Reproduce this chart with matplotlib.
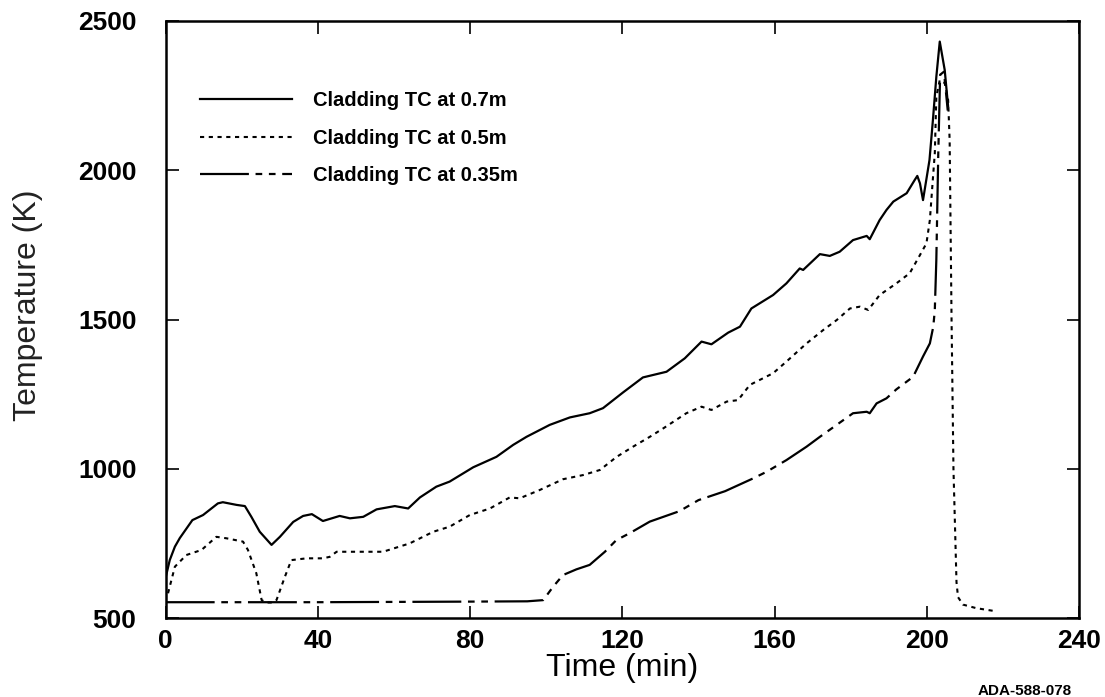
import matplotlib
matplotlib.use("Agg")
import matplotlib.pyplot as plt

# Cladding TC at 0.7 m (solid)
t07 = [0, 1.05, 2.4, 3.7, 7, 9.8, 13.7, 15, 18.6, 20.8, 22.5, 24.7, 27.8, 30, 33.5, 36.1, 38.4, 41.3,
       45.7, 48.4, 51.9, 55.4, 60.2, 63.7, 66.8, 71.1, 74.6, 80.8, 86.9, 91.3, 94.8, 100.9,
       106.2, 111.4, 114.9, 120.2, 125.4, 131.6, 136.4, 140.8, 143.4, 147.8, 150.9, 153.9,
       159.6, 163.1, 166.6, 167.5, 171.9, 174.5, 177.1, 180.6, 184.2, 185.0, 187.6, 189.4,
       191.2, 194.7, 196.8, 197.5, 198.2, 199.0, 200.7, 201.6, 202.5, 203.4, 204.7, 205.6]
T07 = [637, 694, 739, 768, 828, 845, 884, 888, 879, 875, 839, 789, 745, 772, 822, 842, 848, 825,
       842, 834, 839, 864, 875, 867, 904, 940, 957, 1005, 1040, 1080, 1107, 1147,
       1172, 1186, 1203, 1256, 1306, 1325, 1370, 1426, 1417, 1456, 1476, 1537,
       1582, 1621, 1671, 1666, 1719, 1713, 1727, 1766, 1780, 1769, 1833, 1867,
       1895, 1923, 1967, 1981, 1956, 1900, 2034, 2168, 2313, 2431, 2336, 2213]

# Cladding TC at 0.5 m (dotted)
t05 = [0.6, 2.4, 5.4, 9.4, 13.3, 16.0, 20.3, 21.6, 23.8, 25.2, 26.5, 28.0, 29.1, 31.3, 33.0, 37, 41.3,
       43.1, 44.9, 51, 57.1, 64.1, 70.3, 74.6, 79.9, 85.2, 90.4, 93.0, 98.3, 104.4, 109.7,
       114.1, 118.5, 122.8, 127.2, 130.7, 136.8, 140.8, 143.4, 147.4, 150.4, 153.5, 159.6,
       163.1, 168.4, 172.8, 176.3, 179.8, 182.4, 184.6, 187.6, 192.0, 195.5, 198.2, 199.9,
       200.8, 201.7, 202.1, 202.5, 203.4, 204.7, 205.6, 206.0, 206.5, 207.0, 207.8, 208.2,
       209.5, 213, 218]
T05 = [583, 672, 711, 728, 772, 767, 756, 728, 650, 560, 552, 552, 560, 638, 694, 700, 700,
       705, 722, 722, 722, 750, 789, 806, 845, 867, 904, 901, 929, 965, 979,
       996, 1040, 1074, 1107, 1135, 1186, 1208, 1197, 1225, 1230, 1281, 1320,
       1359, 1420, 1465, 1498, 1537, 1543, 1532, 1582, 1621, 1655, 1716, 1755,
       1833, 1990, 2057, 2246, 2302, 2292, 2235, 2100, 1500, 1000, 620, 570,
       545, 533, 523]

# Cladding TC at 0.35 m (long dash - short dashes)
t035 = [0, 20, 40, 60, 80, 95, 99.2, 101.8, 104.4, 107.9, 111.4, 115.4, 118.4, 121.9, 127.2,
        135, 140, 147, 154.4, 157.9, 163.1, 168.4, 171.9, 176.3, 180.6, 184.2, 185.0, 186.8,
        189.4, 192.0, 196.4, 199.0, 200.8, 201.7, 202.1, 202.5, 203.0, 203.5, 204.5, 205.5]
T035 = [553, 553, 553, 554, 555, 556, 560, 605, 644, 663, 678, 722, 761, 784, 823,
        858, 895, 925, 968, 990, 1029, 1074, 1107, 1147, 1186, 1191, 1186, 1219,
        1236, 1266, 1308, 1376, 1420, 1476, 1532, 1700, 2050, 2320, 2330, 2200]

labels = ["Cladding TC at 0.7m", "Cladding TC at 0.5m", "Cladding TC at 0.35m"]
xticks = [0, 40, 80, 120, 160, 200, 240]
yticks = [500, 1000, 1500, 2000, 2500]

plt.rcParams['font.family'] = ['Liberation Sans', 'DejaVu Sans']

fig = plt.figure(figsize=(11.05, 6.97), dpi=100)
ax = fig.add_axes([0.150, 0.1133, 0.8265, 0.8566])

ax.plot(t07, T07, color='black', lw=1.6, label=labels[0])
ax.plot(t05, T05, color='black', lw=1.5, linestyle=(0, (2.0, 2.2)), label=labels[1])
ax.plot(t035, T035, color='black', lw=1.6, linestyle=(0, (22, 3, 3, 3, 3, 3)), label=labels[2])

ax.set_xlim(0, 240)
ax.set_ylim(500, 2500)
ax.set_xticks(xticks)
ax.set_yticks(yticks)
ax.tick_params(direction='in', length=9, width=1.2, top=True, right=True,
               labelsize=19)
ax.tick_params(axis='y', pad=21)
ax.tick_params(axis='x', pad=8)
for lab in ax.get_xticklabels() + ax.get_yticklabels():
    lab.set_fontweight('bold')
for sp in ax.spines.values():
    sp.set_linewidth(1.8)

ax.set_xlabel("Time (min)", fontsize=23, labelpad=0)
ax.set_ylabel("Temperature (K)", fontsize=23, color='#222222')
ax.yaxis.set_label_coords(-0.151, 0.524)
ax.yaxis.label.set_verticalalignment('center')

leg = ax.legend(loc='upper left', bbox_to_anchor=(0.037, 0.882), frameon=False,
                prop={'family': 'Liberation Sans', 'weight': 'bold', 'size': 14.5},
                handlelength=4.6, handletextpad=1.05, labelspacing=0.9,
                borderaxespad=0, borderpad=0)

fig.text(0.885, 0.008, "ADA-588-078", fontsize=11, fontweight='bold', va='center', ha='left')

fig.savefig("out.png", dpi=100)
